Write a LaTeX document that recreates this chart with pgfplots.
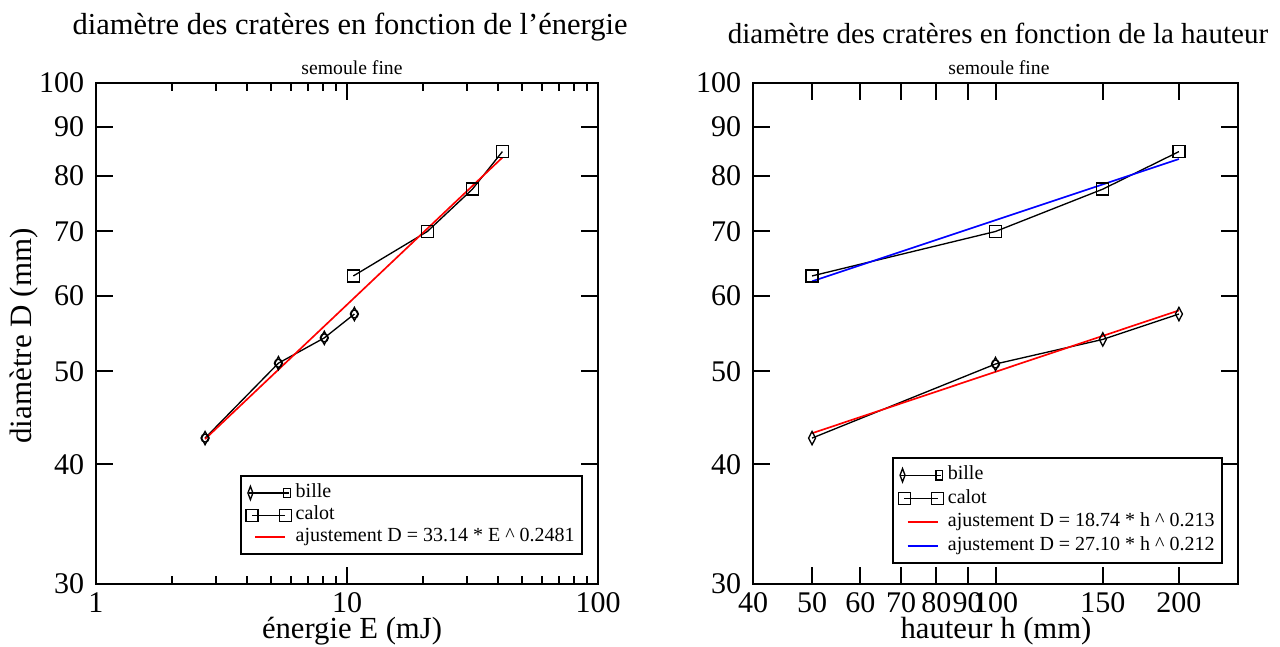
\documentclass[border=0pt]{standalone}
\usepackage{fontspec}
\setmainfont{Liberation Serif}
\usepackage{pgfplots}
\pgfplotsset{compat=1.18}

\begin{document}
\begin{tikzpicture}
\useasboundingbox (0,0) rectangle (384pt,-193.8pt);

% energie
\begin{axis}[
  xmode=log, ymode=log,
  scale only axis,
  at={(28.8pt,-175.2pt)}, anchor=south west,
  width=150.6pt, height=150.3pt,
  xmin=1, xmax=100,
  ymin=30, ymax=100,
  xtick={1,10,100}, xticklabels={\mbox{1},\mbox{10},\mbox{100}},
  ytick={30,40,50,60,70,80,90,100},
  yticklabels={\mbox{30},\mbox{40},\mbox{50},\mbox{60},\mbox{70},\mbox{80},\mbox{90},\mbox{100}},
  yminorticks=false,
  axis line style={line width=0.6pt},
  every tick/.style={black, line width=0.6pt},
  major tick length=5pt, minor tick length=2.5pt,
  tick label style={font=\fontsize{9}{10}\selectfont},
  xticklabel style={inner sep=0.5pt, yshift=-2pt},
  legend cell align=left,
  legend style={font=\fontsize{6}{7}\selectfont, draw=black, line width=0.6pt,
    inner sep=1.5pt, row sep=-0.6pt, column sep=0.5pt, nodes={inner sep=0.8pt},
    at={(0.287,0.058)}, anchor=south west},
]
\addplot[black, line width=0.4pt, mark=diamond, mark size=2pt,
  mark options={xscale=0.7, solid},
  legend image code/.code={
    \draw (1.2pt,0pt) -- (13.2pt,0pt);
    \draw[mark=diamond, mark size=2pt, mark options={xscale=0.5}] plot coordinates {(1.7pt,0pt)};
    \draw[mark=square, mark size=1.4pt] plot coordinates {(12.7pt,0pt)};}]
  coordinates {(2.72,42.6) (5.33,51.0) (8.12,54.2) (10.7,57.4)};
\addlegendentry{bille}
\addplot[black, only marks, mark=o, mark size=1.2pt, forget plot]
  coordinates {(2.72,42.6) (5.33,51.0) (8.12,54.2) (10.7,57.4)};
\addplot[black, line width=0.4pt, mark=square, mark size=1.8pt,
  mark options={solid},
  legend image code/.code={\draw[mark repeat=1,mark phase=1] plot coordinates {(2.2pt,0pt) (12.2pt,0pt)};}]
  coordinates {(10.6,62.9) (20.9,70.0) (31.6,77.5) (41.6,84.8)};
\addlegendentry{calot}
\addplot[red, line width=0.5pt, no marks,
  legend image code/.code={\draw (3.2pt,0pt) -- (12.2pt,0pt);}]
  coordinates {(2.72,42.5) (41.6,83.6)};
\addlegendentry{ajustement D = 33.14 * E \^{} 0.2481}
\end{axis}

% hauteur
\begin{axis}[
  xmode=log, ymode=log,
  scale only axis,
  at={(225.9pt,-175.2pt)}, anchor=south west,
  width=145.5pt, height=150.3pt,
  xmin=40, xmax=250,
  ymin=30, ymax=100,
  xtick={40,50,60,70,80,90,100,150,200},
  xticklabels={\mbox{40},\mbox{50},\mbox{60},\mbox{70},\mbox{80},\mbox{90},\mbox{100},\mbox{150},\mbox{200}},
  xminorticks=false,
  ytick={30,40,50,60,70,80,90,100},
  yticklabels={\mbox{30},\mbox{40},\mbox{50},\mbox{60},\mbox{70},\mbox{80},\mbox{90},\mbox{100}},
  yminorticks=false,
  axis line style={line width=0.6pt},
  every tick/.style={black, line width=0.6pt},
  major tick length=5pt, minor tick length=2.5pt,
  tick label style={font=\fontsize{9}{10}\selectfont},
  xticklabel style={inner sep=0.5pt, yshift=-2pt},
  legend cell align=left,
  legend style={font=\fontsize{6}{7}\selectfont, draw=black, line width=0.6pt,
    inner sep=1.5pt, row sep=-0.2pt, column sep=0.5pt, nodes={inner sep=0.8pt},
    at={(0.287,0.04)}, anchor=south west},
]
\addplot[black, line width=0.4pt, mark=diamond, mark size=2pt,
  mark options={xscale=0.7, solid},
  legend image code/.code={
    \draw (1.2pt,0pt) -- (13.2pt,0pt);
    \draw[mark=diamond, mark size=2pt, mark options={xscale=0.5}] plot coordinates {(1.7pt,0pt)};
    \draw[mark=square, mark size=1.4pt] plot coordinates {(12.7pt,0pt)};}]
  coordinates {(50,42.6) (100,50.9) (150,54.0) (200,57.4)};
\addlegendentry{bille}
\addplot[black, only marks, mark=o, mark size=1.2pt, forget plot]
  coordinates {(100,50.9)};
\addplot[black, line width=0.4pt, mark=square, mark size=1.8pt,
  mark options={solid},
  legend image code/.code={\draw[mark repeat=1,mark phase=1] plot coordinates {(2.2pt,0pt) (12.2pt,0pt)};}]
  coordinates {(50,62.9) (100,70.0) (150,77.5) (200,84.8)};
\addlegendentry{calot}
\addplot[red, line width=0.5pt, no marks,
  legend image code/.code={\draw (3.2pt,0pt) -- (12.2pt,0pt);}]
  coordinates {(50,43.1) (200,57.9)};
\addlegendentry{ajustement D = 18.74 * h \^{} 0.213}
\addplot[blue, line width=0.5pt, no marks,
  legend image code/.code={\draw (3.2pt,0pt) -- (12.2pt,0pt);}]
  coordinates {(50,62.1) (200,83.3)};
\addlegendentry{ajustement D = 27.10 * h \^{} 0.212}
\end{axis}

\node[font=\fontsize{9.15}{10}\selectfont] at (105pt,-8pt) {diamètre des cratères en fonction de l’énergie};
\node[font=\fontsize{8.7}{10}\selectfont] at (299.4pt,-10pt) {diamètre des cratères en fonction de la hauteur};
\node[font=\fontsize{5.9}{6}\selectfont] at (105.6pt,-20.4pt) {semoule fine};
\node[font=\fontsize{5.9}{6}\selectfont] at (299.7pt,-20.4pt) {semoule fine};
\node[font=\fontsize{9.3}{10}\selectfont, rotate=90] at (7.2pt,-100.8pt) {diamètre D (mm)};
\node[font=\fontsize{9.2}{10}\selectfont, inner sep=0pt] at (105.6pt,-189.2pt) {énergie E (mJ)};
\node[font=\fontsize{9.2}{10}\selectfont, inner sep=0pt] at (298.8pt,-189.2pt) {hauteur h (mm)};
\end{tikzpicture}
\end{document}
